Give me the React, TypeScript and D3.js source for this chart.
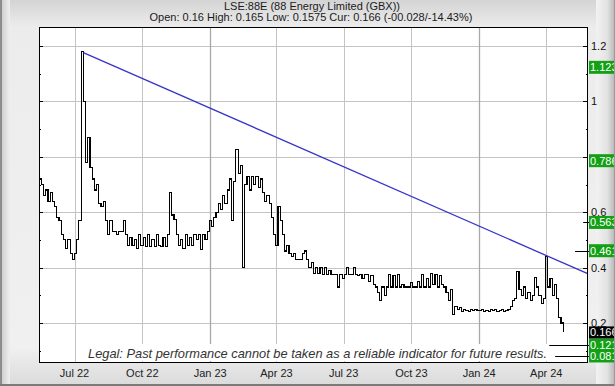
import React from "react";
import * as d3 from "d3";

const startDate = "2022-05-14";
const stepDays = 3;
const closes = [
  0.72, 0.70, 0.66, 0.68, 0.64, 0.67, 0.64, 0.62, 0.58, 0.57,
  0.52, 0.50, 0.47, 0.50, 0.45, 0.43, 0.45, 0.50, 0.57, 1.18,
  1.00, 0.78, 0.87, 0.76, 0.72, 0.68, 0.70, 0.63, 0.62, 0.64,
  0.57, 0.52, 0.57, 0.53, 0.53, 0.52, 0.53, 0.53, 0.57, 0.52,
  0.48, 0.51, 0.48, 0.50, 0.47, 0.52, 0.48, 0.51, 0.475, 0.52,
  0.475, 0.50, 0.475, 0.52, 0.48, 0.475, 0.51, 0.475, 0.52, 0.67,
  0.59, 0.575, 0.52, 0.48, 0.50, 0.47, 0.52, 0.48, 0.51, 0.48,
  0.52, 0.50, 0.52, 0.465, 0.52, 0.50, 0.53, 0.57, 0.55, 0.58,
  0.60, 0.63, 0.61, 0.66, 0.63, 0.68, 0.72, 0.57, 0.71, 0.825,
  0.74, 0.77, 0.40, 0.70, 0.73, 0.68, 0.73, 0.70, 0.73, 0.69,
  0.72, 0.67, 0.64, 0.66, 0.63, 0.58, 0.52, 0.48, 0.62, 0.57,
  0.52, 0.46, 0.48, 0.45, 0.44, 0.45, 0.43, 0.43, 0.43, 0.45,
  0.46, 0.43, 0.40, 0.42, 0.38, 0.40, 0.38, 0.40, 0.375, 0.40,
  0.375, 0.39, 0.375, 0.375, 0.375, 0.33, 0.375, 0.36, 0.375, 0.40,
  0.375, 0.375, 0.40, 0.375, 0.37, 0.375, 0.36, 0.375, 0.375, 0.35,
  0.37, 0.34, 0.33, 0.31, 0.28, 0.33, 0.30, 0.33, 0.375, 0.33,
  0.37, 0.33, 0.375, 0.33, 0.34, 0.33, 0.33, 0.33, 0.345, 0.33,
  0.33, 0.35, 0.33, 0.375, 0.33, 0.36, 0.33, 0.38, 0.34, 0.375,
  0.33, 0.37, 0.34, 0.33, 0.31, 0.28, 0.32, 0.23, 0.26, 0.25,
  0.255, 0.24, 0.25, 0.245, 0.24, 0.25, 0.245, 0.25, 0.245, 0.245,
  0.25, 0.24, 0.245, 0.24, 0.25, 0.245, 0.25, 0.24, 0.245, 0.25,
  0.24, 0.245, 0.25, 0.26, 0.28, 0.29, 0.385, 0.32, 0.30, 0.33,
  0.29, 0.31, 0.28, 0.30, 0.365, 0.33, 0.30, 0.27, 0.29, 0.44,
  0.33, 0.36, 0.30, 0.34, 0.29, 0.22, 0.20, 0.166,
];

const tickDates = [
  "2022-07-01", "2022-10-01", "2023-01-01", "2023-04-01",
  "2023-07-01", "2023-10-01", "2024-01-01", "2024-04-01",
];
const yMajor = [0.2, 0.4, 0.6, 0.8, 1.0, 1.2];
const yLabels = [0.2, 0.4, 0.6, 1.0, 1.2];
const yMinor = [0.1, 0.3, 0.5, 0.7, 0.9, 1.1];

const trendDates = ["2022-07-13", "2024-05-28"];
const trendValues = [1.176, 0.377];

const boxValues = [1.123, 0.786, 0.563, 0.461, 0.121, 0.081];
const currentValue = 0.166;
const levelLineValues = [0.563, 0.461, 0.121, 0.081];
const levelLineFrom = ["2024-05-21", "2024-05-10", "2024-04-05", "2024-04-13"];

const title = "LSE:88E (88 Energy Limited (GBX))";
const subtitle = "Open: 0.16 High: 0.165 Low: 0.1575 Cur: 0.166 (-00.028/-14.43%)";
const legal = "Legal: Past performance cannot be taken as a reliable indicator for future results.";

const W = 615;
const H = 386;
const L = 39;
const R = 588;
const T = 27;
const B = 363;
const FONT = "'Liberation Sans', Arial, Helvetica, sans-serif";

export default function App() {
  const parse = d3.timeParse("%Y-%m-%d");
  const x = d3
    .scaleTime()
    .domain([parse("2022-07-01")!, parse("2024-04-01")!])
    .range([74.5, 546.3]);
  const y = d3.scaleLinear().domain([0.2, 1.2]).range([323, 46]);

  const start = parse(startDate)!;
  const data = closes.map((v, i) => ({ d: d3.timeDay.offset(start, i * stepDays), v }));
  const line = d3
    .line<{ d: Date; v: number }>()
    .x((p) => x(p.d))
    .y((p) => y(p.v))
    .curve(d3.curveStepAfter);

  const trend = trendDates.map((s, i) => ({ d: parse(s)!, v: trendValues[i] }));
  const trendLine = d3
    .line<{ d: Date; v: number }>()
    .x((p) => x(p.d))
    .y((p) => y(p.v));

  const fmtMonth = d3.timeFormat("%b %y");
  const fmtY = (v: number) => String(+v.toFixed(2));
  const py = (v: number) => Math.round(y(v)) + 0.5;

  return (
    <svg
      width={W}
      height={H}
      style={{ position: "absolute", left: 0, top: 0, display: "block" }}
      fontFamily={FONT}
    >
      <defs>
        <linearGradient id="bgV" x1="0" y1="0" x2="0" y2="1">
          <stop offset="0" stopColor="#d4d4d4" />
          <stop offset="0.07" stopColor="#ececec" />
          <stop offset="0.9" stopColor="#f0f0f0" />
          <stop offset="1" stopColor="#dadada" />
        </linearGradient>
        <linearGradient id="rightG" x1="0" y1="0" x2="1" y2="0">
          <stop offset="0" stopColor="#f2f2f2" />
          <stop offset="0.6" stopColor="#e2e2e2" />
          <stop offset="1" stopColor="#b4b4b4" />
        </linearGradient>
        <linearGradient id="leftG" x1="0" y1="0" x2="1" y2="0">
          <stop offset="0" stopColor="#c8c8c8" />
          <stop offset="1" stopColor="#efefef" />
        </linearGradient>
        <clipPath id="plotClip">
          <rect x={L} y={T} width={R - L} height={B - T} />
        </clipPath>
        <clipPath id="panelClip">
          <rect x={R} y={0} width={614 - R} height={H} />
        </clipPath>
      </defs>

      {/* frame */}
      <rect x={0} y={0} width={W} height={H} fill="url(#bgV)" />
      <rect x={0} y={0} width={10} height={H} fill="url(#leftG)" />
      <rect x={596} y={0} width={W - 596} height={H} fill="url(#rightG)" />
      <rect x={0} y={0} width={2} height={H} fill="#8c8c8c" />
      <rect x={0} y={H - 2} width={W} height={2} fill="#7a7a7a" />
      <rect x={W - 1} y={0} width={1} height={H} fill="#9a9a9a" />

      {/* title */}
      <text x={312} y={10} textAnchor="middle" fontSize={11} fill="#1a1a1a">
        {title}
      </text>
      <text x={311} y={21} textAnchor="middle" fontSize={11} fill="#1a1a1a">
        {subtitle}
      </text>

      {/* plot area */}
      <rect x={L} y={T} width={R - L} height={B - T} fill="#ffffff" />

      {/* grid */}
      {yMajor.map((v) => (
        <line key={"gy" + v} x1={L} x2={R} y1={py(v)} y2={py(v)} stroke="#c4c4c4" />
      ))}
      {tickDates.map((s) => {
        const d = parse(s)!;
        const xx = Math.round(x(d)) + 0.5;
        const jan = d.getMonth() === 0;
        return (
          <line key={"gx" + s} x1={xx} x2={xx} y1={T} y2={B} stroke={jan ? "#a8a8a8" : "#c4c4c4"} strokeWidth={jan ? 1.3 : 1} />
        );
      })}

      {/* left/right ticks */}
      {yMajor.map((v) => (
        <g key={"tk" + v}>
          <line x1={L} x2={L + 4} y1={py(v)} y2={py(v)} stroke="#000" />
          <line x1={R - 5} x2={R} y1={py(v)} y2={py(v)} stroke="#000" />
        </g>
      ))}
      {yMinor.map((v) => (
        <g key={"mk" + v}>
          <line x1={L} x2={L + 2} y1={py(v)} y2={py(v)} stroke="#000" />
          <line x1={R - 2} x2={R} y1={py(v)} y2={py(v)} stroke="#000" />
        </g>
      ))}

      {/* legal */}
      <rect x={86} y={344} width={462} height={17} fill="#ffffff" />
      <text
        x={88}
        y={358}
        fontSize={13}
        fontStyle="italic"
        fill="#333333"
        textLength={459}
        lengthAdjust="spacingAndGlyphs"
      >
        {legal}
      </text>

      {/* price */}
      <g clipPath="url(#plotClip)">
        <path d={line(data) || ""} fill="none" stroke="#000" strokeWidth={1.1} shapeRendering="crispEdges" />
        <path d={trendLine(trend) || ""} fill="none" stroke="#3535c8" strokeWidth={1.3} />
      </g>

      {/* level lines */}
      {levelLineValues.map((v, i) => (
        <line
          key={"lv" + v}
          x1={x(parse(levelLineFrom[i])!)}
          x2={R + 14}
          y1={py(v)}
          y2={py(v)}
          stroke="#000"
        />
      ))}

      {/* plot border */}
      <rect x={L + 0.5} y={T + 0.5} width={R - L - 1} height={B - T - 1} fill="none" stroke="#000" />

      {/* right labels */}
      {yLabels.map((v) => (
        <text key={"yl" + v} x={591} y={y(v) + 4} fontSize={11} fill="#111">
          {fmtY(v)}
        </text>
      ))}

      {/* boxes */}
      <g clipPath="url(#panelClip)">
        {boxValues.map((v) => (
          <g key={"bx" + v}>
            <rect x={R + 1} y={y(v) - 6.5} width={28} height={13} fill="#14a014" />
            <text x={590} y={y(v) + 4} fontSize={11} fill="#ffffff">
              {v.toFixed(3)}
            </text>
          </g>
        ))}
        <rect x={R + 1} y={y(currentValue) - 6} width={28} height={12} fill="#000" />
        <text x={590} y={y(currentValue) + 4} fontSize={11} fill="#ffffff">
          {currentValue.toFixed(3)}
        </text>
      </g>

      {/* x labels */}
      {tickDates.map((s) => {
        const d = parse(s)!;
        return (
          <text key={"xl" + s} x={x(d)} y={377} textAnchor="middle" fontSize={11} fill="#222">
            {fmtMonth(d)}
          </text>
        );
      })}
    </svg>
  );
}
